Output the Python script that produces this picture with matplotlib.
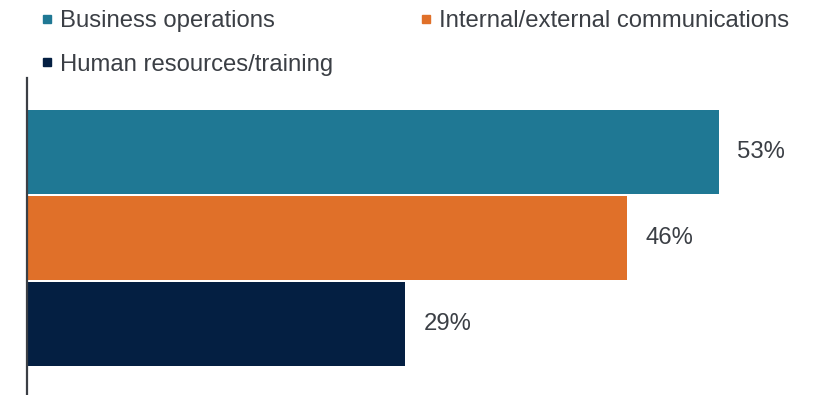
import matplotlib.pyplot as plt
from matplotlib.lines import Line2D

plt.rcParams['font.family'] = ['Liberation Sans', 'DejaVu Sans']

# data
categories = ['Business operations', 'Internal/external communications', 'Human resources/training']
values = [53, 46, 29]
colors = ['#1f7894', '#e07029', '#041f42']
text_color = '#3b3f45'

fig = plt.figure(figsize=(8.27, 3.95), dpi=100)
# axes from x=27px to right edge, y from 78px (top) to bottom
ax = fig.add_axes([27 / 827, 0, 800 / 827, (395 - 78) / 395])

pos = range(len(values))
bars = ax.barh(pos, values, height=0.977, color=colors)
ax.set_xlim(0, 61.3)
ax.set_ylim(2.826, -0.866)

for b, v in zip(bars, values):
    ax.annotate(f'{v}%', (b.get_width(), b.get_y() + b.get_height() / 2),
                xytext=(18, 0), textcoords='offset pixels',
                va='center', ha='left', fontsize=17.2, color=text_color)

for s in ['top', 'right', 'bottom']:
    ax.spines[s].set_visible(False)
ax.spines['left'].set_color('#3b3f45')
ax.spines['left'].set_linewidth(1.6)
ax.set_xticks([])
ax.set_yticks([])

# legend: row-wise order
handles = [Line2D([], [], ls='', marker='s', markersize=5.5, color=c) for c in colors]
order = [0, 2, 1]
leg = fig.legend([handles[i] for i in order], [categories[i] for i in order],
                 ncol=2, loc='upper left', bbox_to_anchor=(41 / 827, 1 - 10 / 395),
                 frameon=False, fontsize=17.2, handlelength=0.5, handletextpad=0.29,
                 columnspacing=3.64, labelspacing=0.91, borderpad=0, borderaxespad=0)
for t in leg.get_texts():
    t.set_color(text_color)

fig.savefig('out.png', dpi=100)
